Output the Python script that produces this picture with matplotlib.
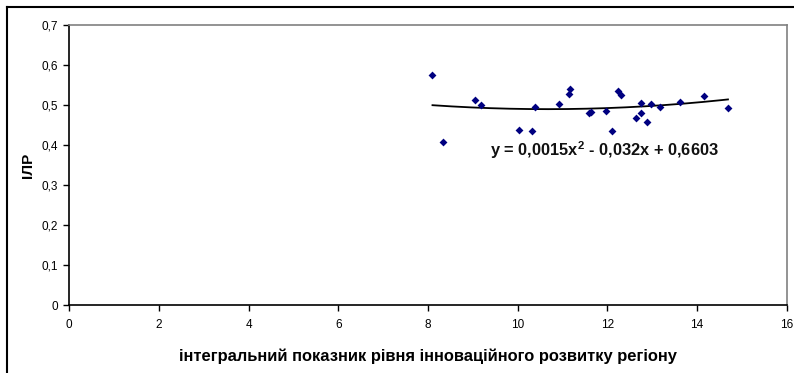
import matplotlib
matplotlib.use("Agg")
import matplotlib.pyplot as plt
from matplotlib.lines import Line2D
import numpy as np

plt.rcParams['font.family'] = ['Liberation Sans', 'DejaVu Sans']
plt.rcParams['mathtext.fontset'] = 'custom'
plt.rcParams['mathtext.rm'] = 'Liberation Sans:bold'
plt.rcParams['mathtext.it'] = 'Liberation Sans:bold'
plt.rcParams['mathtext.bf'] = 'Liberation Sans:bold'

# innovation development index vs ILR
x_vals = [8.10, 8.33, 9.04, 9.18, 10.03, 10.33, 10.39, 10.93, 11.14, 11.17,
          11.60, 11.64, 11.98, 12.11, 12.23, 12.30, 12.63, 12.74, 12.74,
          12.89, 12.98, 13.17, 13.63, 14.15, 14.69]
y_vals = [0.576, 0.408, 0.512, 0.500, 0.438, 0.434, 0.496, 0.503, 0.527, 0.541,
          0.479, 0.482, 0.485, 0.434, 0.536, 0.525, 0.468, 0.504, 0.481,
          0.458, 0.502, 0.496, 0.507, 0.522, 0.493]

# polynomial trendline coefficients (a2, a1, a0)
trend_coef = [0.0015, -0.032, 0.6603]
trend_label = "y = 0,0015x$^{2}$ - 0,032x + 0,6603"

x_ticks = [0, 2, 4, 6, 8, 10, 12, 14, 16]
y_ticks = [0, 0.1, 0.2, 0.3, 0.4, 0.5, 0.6, 0.7]
x_label = "інтегральний показник рівня інноваційного розвитку регіону"
y_label = "ІЛР"

fig = plt.figure(figsize=(7.94, 3.73), dpi=100)
ax = fig.add_axes([69.3 / 794, 1 - 305 / 373, (786.7 - 69.3) / 794, 280 / 373])

ax.scatter(x_vals, y_vals, marker='D', s=16, color='#000080', zorder=3, linewidths=0)

xx = np.linspace(min(x_vals), max(x_vals), 200)
ax.plot(xx, np.polyval(trend_coef, xx), color='black', linewidth=1.3, zorder=2)

ax.text(9.38, 0.388, trend_label, fontsize=11.8, fontweight='bold',
        ha='left', va='center', color='#111111')

ax.set_xlim(0, 16)
ax.set_ylim(0, 0.7)
ax.set_xticks(x_ticks)
ax.set_xticklabels([str(t) for t in x_ticks])
ax.set_yticks(y_ticks)
ax.set_yticklabels([("%.1f" % t).replace('.', ',') if t else "0" for t in y_ticks])
ax.tick_params(axis='both', direction='out', length=4, width=1, labelsize=8.5,
               colors='black')
ax.tick_params(axis='x', pad=6)
ax.tick_params(axis='y', pad=4)

for side in ['top', 'right']:
    ax.spines[side].set_color('#808080')
    ax.spines[side].set_linewidth(1.2)
for side in ['left', 'bottom']:
    ax.spines[side].set_color('black')
    ax.spines[side].set_linewidth(1.2)

ax.set_xlabel(x_label, fontsize=11.9, fontweight='bold', labelpad=13)
ax.set_ylabel(y_label, fontsize=11, fontweight='bold', labelpad=5)

# outer chart border (right and bottom lie outside the image)
fig.add_artist(Line2D([7 / 794, 7 / 794], [0, 1 - 7 / 373], color='black',
                      linewidth=1.5, transform=fig.transFigure))
fig.add_artist(Line2D([7 / 794, 1], [1 - 7 / 373, 1 - 7 / 373], color='black',
                      linewidth=1.5, transform=fig.transFigure))

fig.savefig("out.png", dpi=100)
